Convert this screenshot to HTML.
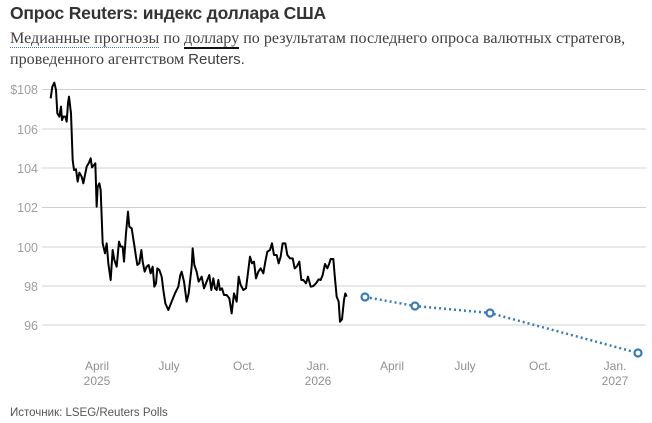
<!DOCTYPE html>
<html><head><meta charset="utf-8"><style>
body{margin:0;background:#fff;width:652px;height:423px;overflow:hidden;font-family:"Liberation Sans",sans-serif}
.t{position:absolute;left:10px;top:3px;font-size:17.5px;font-weight:bold;color:#333;letter-spacing:-0.2px}
.s{position:absolute;left:10px;top:28px;font-family:"Liberation Serif",serif;font-size:16.1px;line-height:21px;color:#404040;width:640px}
.d{border-bottom:1.5px dotted #3b7bb5}
.u{border-bottom:2px solid #111}
</style></head><body>
<div class="t">Опрос Reuters: индекс доллара США</div>
<div class="s"><span class="d">Медианные прогнозы</span> по <span class="u">доллару</span> по результатам последнего опроса валютных стратегов, проведенного агентством <span style="font-family:'Liberation Sans',sans-serif;font-size:15px">Reuters.</span></div>
<svg width="652" height="423" style="position:absolute;left:0;top:0">
<g stroke="#d0d0d0" stroke-width="1">
<line x1="42" x2="646" y1="89.5" y2="89.5"/><line x1="42" x2="646" y1="129" y2="129"/><line x1="42" x2="646" y1="168" y2="168"/><line x1="42" x2="646" y1="207.5" y2="207.5"/><line x1="42" x2="646" y1="247" y2="247"/><line x1="42" x2="646" y1="286" y2="286"/><line x1="42" x2="646" y1="325" y2="325"/>
</g>
<g font-size="12.5" fill="#a0a0a0" text-anchor="end">
<text x="38" y="94">$108</text><text x="38" y="134">106</text><text x="38" y="173">104</text><text x="38" y="212">102</text><text x="38" y="252">100</text><text x="38" y="291">98</text><text x="38" y="330">96</text>
</g>
<g transform="translate(0,80) scale(0.33333)"><polyline fill="none" stroke="#000" stroke-width="6" stroke-linejoin="round" points="152,55 157,20 163,8 168,30 172,100 178,110 183,80 186,120 190,110 196,110 200,125 204,70 207,50 213,100 218,240 222,270 228,268 233,305 238,278 245,290 250,310 255,285 260,260 267,248 272,235 276,262 282,255 286,250 290,380 293,320 298,310 302,330 308,490 315,520 320,490 325,550 332,600 338,510 343,540 350,560 357,485 362,500 368,500 372,545 378,460 384,395 388,440 395,445 402,490 408,530 412,555 418,550 424,510 428,545 434,575 440,560 446,555 452,580 458,560 463,620 468,610 472,565 478,570 485,590 490,630 496,670 505,690 515,665 525,640 535,620 541,585 545,575 552,605 560,665 566,640 575,560 578,505 583,555 590,575 596,605 605,590 612,625 620,605 628,585 634,630 640,595 645,625 650,630 655,600 660,630 666,625 672,645 680,645 688,655 695,700 702,640 710,665 716,590 722,615 730,630 738,625 745,570 750,530 756,550 762,545 768,595 775,575 782,565 790,580 796,545 802,515 810,510 816,490 822,525 830,525 836,550 842,530 848,490 856,490 862,525 870,535 878,535 884,565 890,560 898,545 904,600 910,600 918,610 924,590 932,620 940,618 948,610 956,598 962,600 968,585 975,552 982,565 988,550 992,537 1000,537 1004,585 1010,650 1016,665 1020,725 1026,718 1032,660 1036,640 1040,650"/></g>
<polyline fill="none" stroke="#3b7bb5" stroke-width="2.5" stroke-dasharray="2 3" points="365,297 415,306 490,313 638,353"/>
<g fill="#fff" stroke="#3b7bb5" stroke-width="2.2">
<circle cx="365" cy="297" r="3.5"/><circle cx="415" cy="306" r="3.5"/><circle cx="490" cy="313" r="3.5"/><circle cx="638" cy="353" r="3.5"/>
</g>
<g font-size="12" fill="#909090" text-anchor="middle">
<text x="97" y="370">April</text><text x="97" y="385">2025</text>
<text x="169" y="370">July</text><text x="244" y="370">Oct.</text>
<text x="318" y="370">Jan.</text><text x="318" y="385">2026</text>
<text x="392" y="370">April</text><text x="465" y="370">July</text><text x="540" y="370">Oct.</text>
<text x="615" y="370">Jan.</text><text x="615" y="385">2027</text>
</g>
<text x="10" y="416" font-size="11.5" fill="#555">Источник: LSEG/Reuters Polls</text>
</svg>
</body></html>
